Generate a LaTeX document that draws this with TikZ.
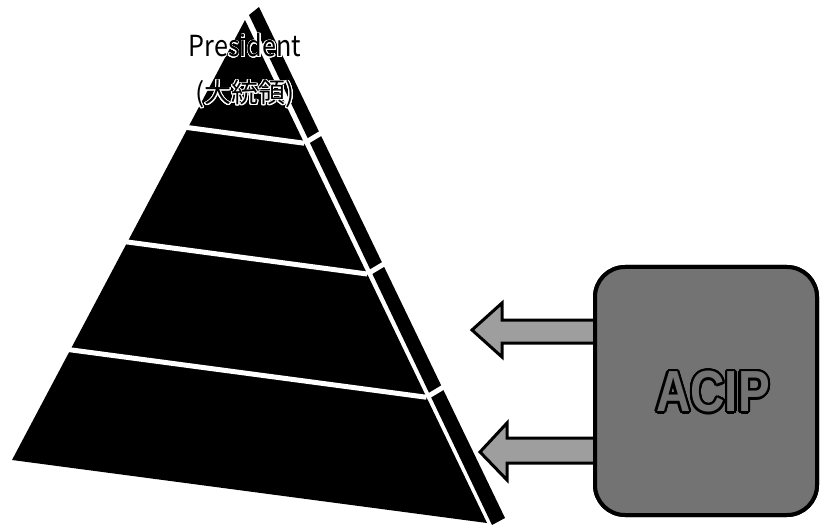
\documentclass[tikz,border=0pt]{standalone}
\usepackage{fontspec}
\usepackage{contour}
\usetikzlibrary{calc}
\contournumber{24}
\newfontfamily\cjkfont{Noto Sans CJK JP}
\newfontfamily\latfont{Noto Sans CJK JP}[FakeStretch=0.87]
\newfontfamily\acipfont{Liberation Sans}[FakeStretch=0.82]
\definecolor{boxgray}{gray}{0.45}
\definecolor{arrowgray}{gray}{0.62}
\tikzset{
  face/.style={fill=black, draw=none},
  divider/.style={draw=white, line width=5pt},
  blockarrow/.style={draw=black, line width=3pt, fill=arrowgray, line join=miter},
  acipbox/.style={draw=black, line width=4pt, fill=boxgray, rounded corners=30pt, rectangle},
}
\begin{document}
\begin{tikzpicture}[x=1pt,y=-1pt]
\useasboundingbox (0,0) rectangle (821,526);
% pyramid geometry
\coordinate (A)  at (245,20);
\coordinate (BL) at (12,460);
\coordinate (BR) at (487,523);
\coordinate (S1) at (249,15);
\coordinate (S2) at (259,7);
\coordinate (S3) at (505,518);
\coordinate (S4) at (492,525);
% side face and front face
\fill[face] (S1) -- (S2) -- (S3) -- (S4) -- cycle;
\fill[face] (A) -- (BR) -- (BL) -- cycle;
% tier dividers
\foreach \t/\n in {0.245/one,0.505/two,0.75/three}{
  \coordinate (L\n) at ($(A)!\t!(BL)$);
  \coordinate (R\n) at ($(A)!\t!(BR)$);
  \draw[divider] ($(L\n)+(-6,-1)$) -- (R\n);
  \draw[divider] (R\n) -- ++(25,-15);
}
% labels in top tier
\node[font=\latfont\fontsize{29}{29}\selectfont, anchor=base, inner sep=0pt] (pres) at (245,57) {\contourlength{0.8pt}\contour{white}{President}};
\node[font=\cjkfont\fontsize{27}{27}\selectfont, anchor=base, inner sep=0pt] (prescjk) at (245,103) {\contourlength{0.8pt}\contour{white}{(大統領)}};
% ACIP box and block arrows
\node[acipbox, minimum width=222pt, minimum height=248pt] (acip) at (706,391) {};
\coordinate (tipA) at (472,330);
\coordinate (tipB) at (480,452);
\draw[blockarrow] (acip.west |- 0,320) -- (502,320) -- (502,303) -- (tipA) -- (502,357) -- (502,343) -- (acip.west |- 0,343);
\draw[blockarrow] (acip.west |- 0,438) -- (507,438) -- (507,423) -- (tipB) -- (507,480) -- (507,463) -- (acip.west |- 0,463);
\node[acipbox, minimum width=222pt, minimum height=248pt] at (acip.center) {};
\node[font=\acipfont\bfseries\fontsize{58}{58}\selectfont, text=boxgray, inner sep=0pt] (aciplabel) at (713,393) {\contourlength{2.2pt}\contour{black}{ACIP}};
\end{tikzpicture}
\end{document}
